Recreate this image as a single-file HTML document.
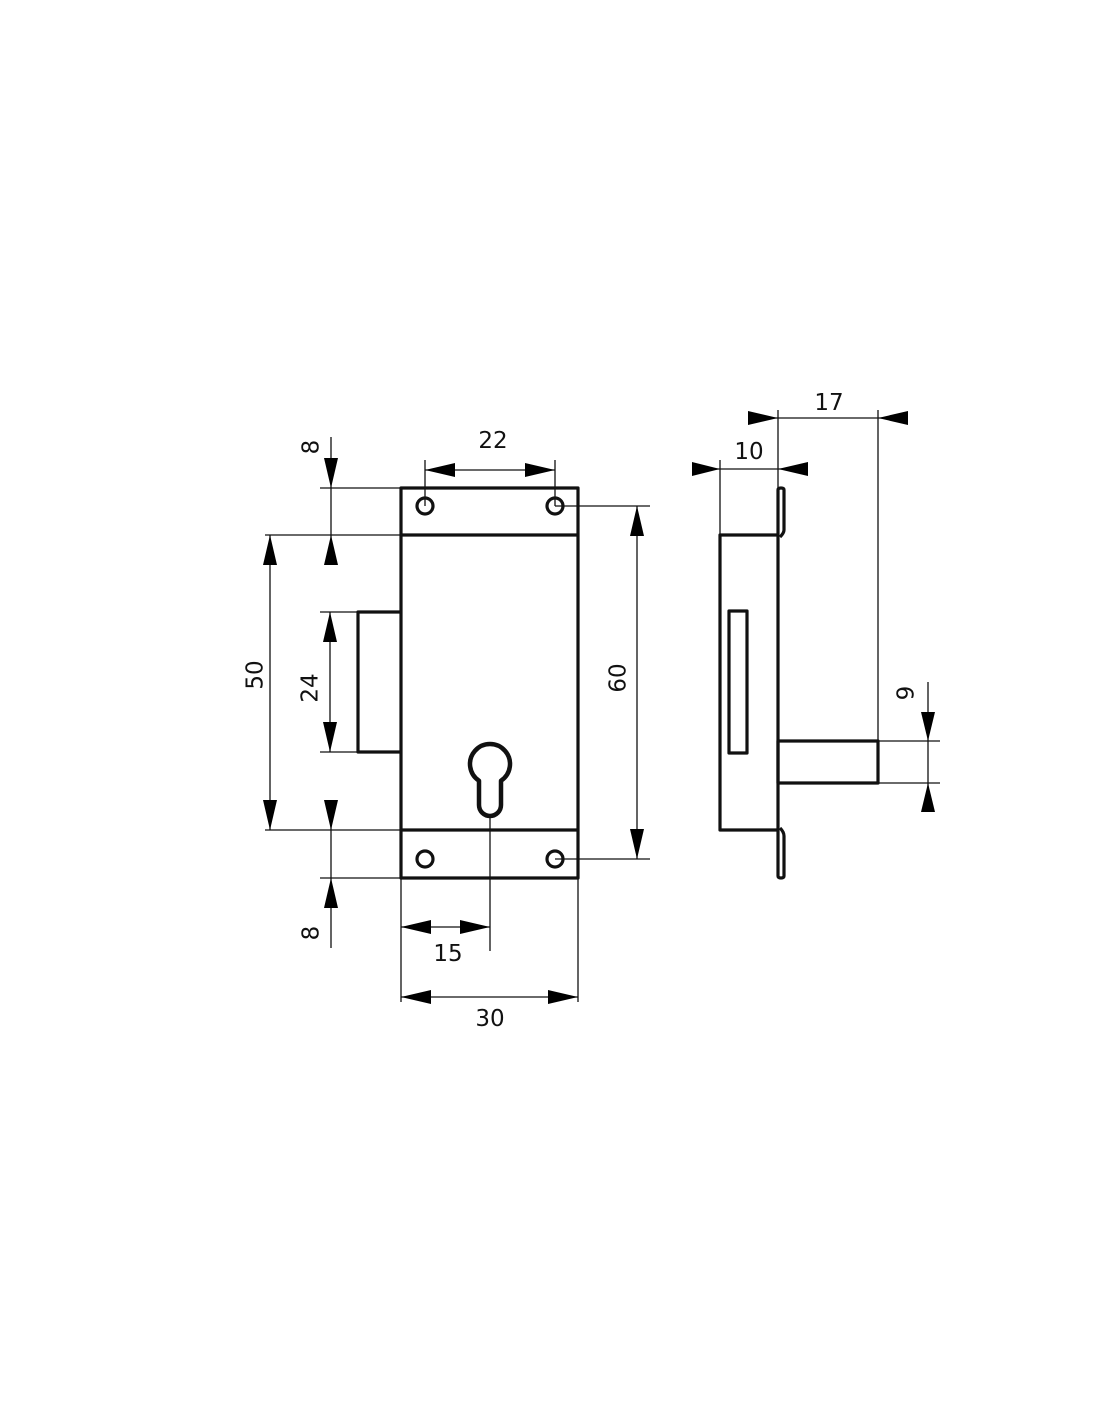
<!DOCTYPE html>
<html><head><meta charset="utf-8"><style>
html,body{margin:0;padding:0;background:#fff;}
svg{display:block}
text{font-family:"DejaVu Sans","Liberation Sans",sans-serif;font-size:23px;fill:#111;}
</style></head><body>
<svg width="1100" height="1422" viewBox="0 0 1100 1422" xmlns="http://www.w3.org/2000/svg">
<g fill="none" stroke="#111" stroke-width="1.3">
<line x1="320" y1="488" x2="401" y2="488"/>
<line x1="265" y1="535" x2="401" y2="535"/>
<line x1="320" y1="612" x2="358" y2="612"/>
<line x1="320" y1="752" x2="358" y2="752"/>
<line x1="265" y1="830" x2="401" y2="830"/>
<line x1="320" y1="878" x2="401" y2="878"/>
<line x1="425" y1="460" x2="425" y2="506"/>
<line x1="555" y1="460" x2="555" y2="506"/>
<line x1="555" y1="506" x2="650" y2="506"/>
<line x1="555" y1="859" x2="650" y2="859"/>
<line x1="490" y1="818" x2="490" y2="951"/>
<line x1="401" y1="878" x2="401" y2="1002"/>
<line x1="578" y1="878" x2="578" y2="1002"/>
<line x1="331" y1="437" x2="331" y2="565"/>
<line x1="331" y1="800" x2="331" y2="948"/>
<line x1="425" y1="470" x2="555" y2="470"/>
<line x1="270" y1="535" x2="270" y2="830"/>
<line x1="330" y1="612" x2="330" y2="752"/>
<line x1="637" y1="506" x2="637" y2="859"/>
<line x1="401" y1="927" x2="490" y2="927"/>
<line x1="401" y1="997" x2="578" y2="997"/>
<line x1="778" y1="410" x2="778" y2="488"/>
<line x1="878" y1="410" x2="878" y2="741"/>
<line x1="720" y1="460" x2="720" y2="535"/>
<line x1="750" y1="418" x2="907" y2="418"/>
<line x1="692" y1="469" x2="808" y2="469"/>
<line x1="878" y1="741" x2="940" y2="741"/>
<line x1="878" y1="783" x2="940" y2="783"/>
<line x1="928" y1="682" x2="928" y2="812"/>
</g>
<g fill="#000">
<polygon points="331,488 324,458 338,458"/>
<polygon points="331,535 324,565 338,565"/>
<polygon points="331,830 324,800 338,800"/>
<polygon points="331,878 324,908 338,908"/>
<polygon points="425,470 455,463 455,477"/>
<polygon points="555,470 525,463 525,477"/>
<polygon points="270,535 263,565 277,565"/>
<polygon points="270,830 263,800 277,800"/>
<polygon points="330,612 323,642 337,642"/>
<polygon points="330,752 323,722 337,722"/>
<polygon points="637,506 630,536 644,536"/>
<polygon points="637,859 630,829 644,829"/>
<polygon points="401,927 431,920 431,934"/>
<polygon points="490,927 460,920 460,934"/>
<polygon points="401,997 431,990 431,1004"/>
<polygon points="578,997 548,990 548,1004"/>
<polygon points="778,418 748,411 748,425"/>
<polygon points="878,418 908,411 908,425"/>
<polygon points="720,469 692,462 692,476"/>
<polygon points="778,469 808,462 808,476"/>
<polygon points="928,741 921,712 935,712"/>
<polygon points="928,783 921,812 935,812"/>
</g>
<g fill="none" stroke="#111" stroke-width="3.2" stroke-linejoin="round">
<rect x="401" y="488" width="177" height="390"/>
<line x1="401" y1="535" x2="578" y2="535"/>
<line x1="401" y1="830" x2="578" y2="830"/>
<polyline points="401,612 358,612 358,752 401,752"/>
<circle cx="425" cy="506" r="8"/>
<circle cx="555" cy="506" r="8"/>
<circle cx="425" cy="859" r="8"/>
<circle cx="555" cy="859" r="8"/>
<path d="M479,780.7 A20,20 0 1 1 501,780.7 L501,805 A11,11 0 0 1 479,805 Z" stroke-width="4.5"/>
<polyline points="778,535 720,535 720,830 778,830"/>
<line x1="778" y1="535" x2="778" y2="830"/>
<rect x="729" y="611" width="18" height="142"/>
<path d="M778,535 L778,490 Q778,488 781,488 Q784,488 784,490 L784,530 Q784,533 780,537"/>
<path d="M778,830 L778,876 Q778,878 781,878 Q784,878 784,876 L784,836 Q784,832 780,828"/>
<rect x="778" y="741" width="100" height="42"/>
</g>
<text x="312" y="447" text-anchor="middle" transform="rotate(-90 312 447)" dominant-baseline="middle">8</text>
<text x="312" y="933" text-anchor="middle" transform="rotate(-90 312 933)" dominant-baseline="middle">8</text>
<text x="256" y="675" text-anchor="middle" transform="rotate(-90 256 675)" dominant-baseline="middle">50</text>
<text x="311" y="688" text-anchor="middle" transform="rotate(-90 311 688)" dominant-baseline="middle">24</text>
<text x="619" y="678" text-anchor="middle" transform="rotate(-90 619 678)" dominant-baseline="middle">60</text>
<text x="907" y="693" text-anchor="middle" transform="rotate(-90 907 693)" dominant-baseline="middle">9</text>
<text x="493" y="448" text-anchor="middle">22</text>
<text x="448" y="961" text-anchor="middle">15</text>
<text x="490" y="1026" text-anchor="middle">30</text>
<text x="829" y="410" text-anchor="middle">17</text>
<text x="749" y="459" text-anchor="middle">10</text>
</svg>
</body></html>
